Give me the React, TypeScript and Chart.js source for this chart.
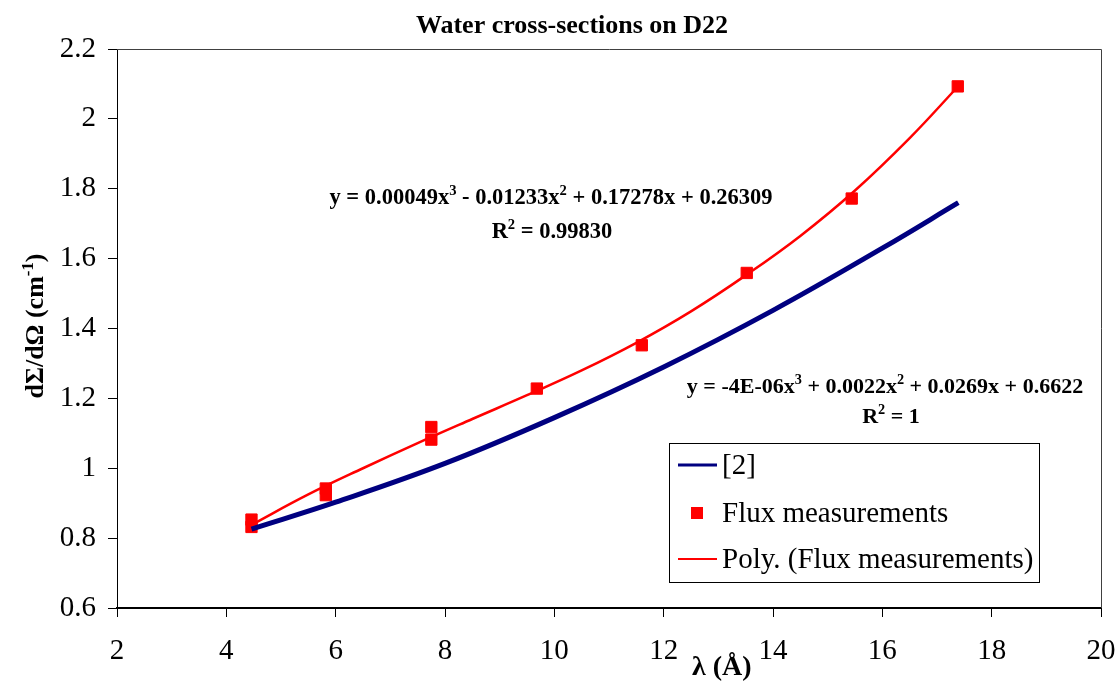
import React, { useEffect, useRef } from "react";
import { Chart, registerables } from "chart.js";

Chart.register(...registerables);

// ---- Data ----
const fluxX = [4.46, 4.46, 5.82, 5.82, 7.75, 7.75, 9.68, 11.6, 13.52, 15.44, 17.38];
const fluxY = [0.853, 0.832, 0.942, 0.923, 1.118, 1.082, 1.228, 1.352, 1.559, 1.772, 2.093];

// polynomial trend line
const polyX = [4.46, 5.5, 6.5, 7.5, 8.5, 9.5, 10.5, 11.5, 12.5, 13.5, 14.5, 15.5, 16.5, 17.38];
const polyY = [0.838, 0.925, 1.0, 1.072, 1.141, 1.209, 1.28, 1.359, 1.449, 1.552, 1.665, 1.795, 1.945, 2.092];

// reference curve [2]
const refX = [4.46, 6, 8, 10, 12, 14, 16, 17.39];
const refY = [0.826, 0.903, 1.014, 1.145, 1.29, 1.452, 1.63, 1.76];

const xTicks = [2, 4, 6, 8, 10, 12, 14, 16, 18, 20];
const yTicks = [0.6, 0.8, 1, 1.2, 1.4, 1.6, 1.8, 2, 2.2];

const seriesNames = ["[2]", "Flux measurements", "Poly. (Flux measurements)"];
const chartTitle = "Water cross-sections on D22";
const xTitle = "λ (Å)";
const eq1 = [
  { t: "y = 0.00049x" }, { t: "3", sup: true }, { t: " - 0.01233x" }, { t: "2", sup: true },
  { t: " + 0.17278x + 0.26309" },
];
const eq1r = [{ t: "R" }, { t: "2", sup: true }, { t: " = 0.99830" }];
const eq2 = [
  { t: "y = -4E-06x" }, { t: "3", sup: true }, { t: " + 0.0022x" }, { t: "2", sup: true },
  { t: " + 0.0269x + 0.6622" },
];
const eq2r = [{ t: "R" }, { t: "2", sup: true }, { t: " = 1" }];
const yTitle = [{ t: "dΣ/dΩ (cm" }, { t: "-1", sup: true }, { t: ")" }];

const FONT = "'Liberation Serif', 'Times New Roman', serif";
const BLUE = "#000080";
const RED = "#FF0000";

type Part = { t: string; sup?: boolean };

function richWidth(ctx: CanvasRenderingContext2D, parts: Part[], size: number, bold: boolean) {
  let w = 0;
  for (const p of parts) {
    const s = p.sup ? size * 0.65 : size;
    ctx.font = `${bold ? "bold " : ""}${s}px ${FONT}`;
    w += ctx.measureText(p.t).width;
  }
  return w;
}

function drawRich(
  ctx: CanvasRenderingContext2D,
  parts: Part[],
  cx: number,
  baseline: number,
  size: number,
  bold: boolean
) {
  const total = richWidth(ctx, parts, size, bold);
  let x = cx - total / 2;
  ctx.textAlign = "left";
  ctx.textBaseline = "alphabetic";
  for (const p of parts) {
    const s = p.sup ? size * 0.65 : size;
    ctx.font = `${bold ? "bold " : ""}${s}px ${FONT}`;
    const y = p.sup ? baseline - size * 0.4 : baseline;
    ctx.fillText(p.t, x, y);
    x += ctx.measureText(p.t).width;
  }
}

const decorPlugin = {
  id: "decor",
  afterDraw(chart: any) {
    const ctx: CanvasRenderingContext2D = chart.ctx;
    const a = chart.chartArea;
    ctx.save();
    ctx.strokeStyle = "#404040";
    ctx.lineWidth = 1;
    ctx.beginPath();
    ctx.moveTo(a.left, a.top + 0.5);
    ctx.lineTo(a.right + 0.5, a.top + 0.5);
    ctx.lineTo(a.right + 0.5, a.bottom);
    ctx.stroke();

    ctx.fillStyle = "#000";
    drawRich(ctx, [{ t: chartTitle }], 572, 33, 26, true);
    drawRich(ctx, eq1, 551, 204, 22.5, true);
    drawRich(ctx, eq1r, 552, 238, 22.5, true);
    drawRich(ctx, eq2, 885, 393, 22, true);
    drawRich(ctx, eq2r, 891, 423, 22, true);

    ctx.font = `bold 28px ${FONT}`;
    ctx.textAlign = "left";
    ctx.textBaseline = "alphabetic";
    ctx.fillText(xTitle, 692, 675);

    ctx.save();
    ctx.translate(43, 326);
    ctx.rotate(-Math.PI / 2);
    drawRich(ctx, yTitle, 0, 0, 26, true);
    ctx.restore();

    // legend
    const lx = 669.5, ly = 443.5, lw = 370, lh = 139;
    ctx.fillStyle = "#fff";
    ctx.fillRect(lx, ly, lw, lh);
    ctx.strokeStyle = "#000";
    ctx.lineWidth = 1;
    ctx.strokeRect(lx, ly, lw, lh);
    const rows = [465, 513, 559];
    ctx.strokeStyle = BLUE;
    ctx.lineWidth = 3;
    ctx.beginPath();
    ctx.moveTo(678, rows[0]);
    ctx.lineTo(717, rows[0]);
    ctx.stroke();
    ctx.fillStyle = RED;
    ctx.fillRect(691, rows[1] - 6, 12, 12);
    ctx.strokeStyle = RED;
    ctx.lineWidth = 2;
    ctx.beginPath();
    ctx.moveTo(678, rows[2]);
    ctx.lineTo(717, rows[2]);
    ctx.stroke();
    ctx.fillStyle = "#000";
    ctx.font = `29px ${FONT}`;
    ctx.textAlign = "left";
    ctx.textBaseline = "middle";
    seriesNames.forEach((n, i) => ctx.fillText(n, 722, rows[i] + 1));
    ctx.restore();
  },
};

const fmt = (v: number) => String(Number(Number(v).toFixed(1)));

export default function App() {
  const ref = useRef<HTMLCanvasElement>(null);
  useEffect(() => {
    if (!ref.current) return;
    const chart = new Chart(ref.current, {
      type: "scatter",
      data: {
        datasets: [
          {
            label: seriesNames[0],
            data: refX.map((x, i) => ({ x, y: refY[i] })),
            showLine: true,
            borderColor: BLUE,
            backgroundColor: BLUE,
            borderWidth: 5,
            pointRadius: 0,
            tension: 0.4,
          },
          {
            label: seriesNames[1],
            data: fluxX.map((x, i) => ({ x, y: fluxY[i] })),
            showLine: false,
            pointStyle: "rect",
            pointRadius: 8,
            borderWidth: 1,
            borderColor: RED,
            backgroundColor: RED,
          },
          {
            label: seriesNames[2],
            data: polyX.map((x, i) => ({ x, y: polyY[i] })),
            showLine: true,
            borderColor: RED,
            backgroundColor: RED,
            borderWidth: 2.5,
            pointRadius: 0,
            tension: 0.4,
          },
        ],
      },
      options: {
        animation: false,
        responsive: false,
        maintainAspectRatio: false,
        layout: { padding: { left: 0, top: 49, right: 18, bottom: 0 } },
        plugins: {
          legend: { display: false },
          title: { display: false },
          tooltip: { enabled: false },
        },
        scales: {
          x: {
            type: "linear",
            min: 2,
            max: 20,
            afterBuildTicks: (s: any) => {
              s.ticks = xTicks.map((v) => ({ value: v }));
            },
            afterFit: (s: any) => {
              s.height = 73;
              s.paddingLeft = 0;
              s.paddingRight = 0;
            },
            grid: { drawOnChartArea: false, drawTicks: true, tickLength: 9, color: "#000", lineWidth: 1 },
            border: { display: true, color: "#000", width: 2 },
            ticks: {
              color: "#000",
              font: { family: FONT, size: 29 },
              padding: 17,
              maxRotation: 0,
              autoSkip: false,
              callback: (v: any) => fmt(v),
            },
          },
          y: {
            type: "linear",
            min: 0.6,
            max: 2.2,
            afterBuildTicks: (s: any) => {
              s.ticks = yTicks.map((v) => ({ value: v }));
            },
            afterFit: (s: any) => {
              s.width = 117;
              s.paddingTop = 0;
              s.paddingBottom = 0;
            },
            grid: { drawOnChartArea: false, drawTicks: true, tickLength: 9, color: "#000", lineWidth: 1 },
            border: { display: true, color: "#000", width: 1 },
            ticks: {
              color: "#000",
              font: { family: FONT, size: 29 },
              padding: 12,
              autoSkip: false,
              callback: (v: any) => fmt(v),
            },
          },
        },
      },
      plugins: [decorPlugin],
    } as any);
    return () => chart.destroy();
  }, []);
  return (
    <div style={{ position: "absolute", left: 0, top: 0, width: 1119, height: 681, background: "#fff" }}>
      <canvas ref={ref} width={1119} height={681} style={{ display: "block" }} />
    </div>
  );
}
